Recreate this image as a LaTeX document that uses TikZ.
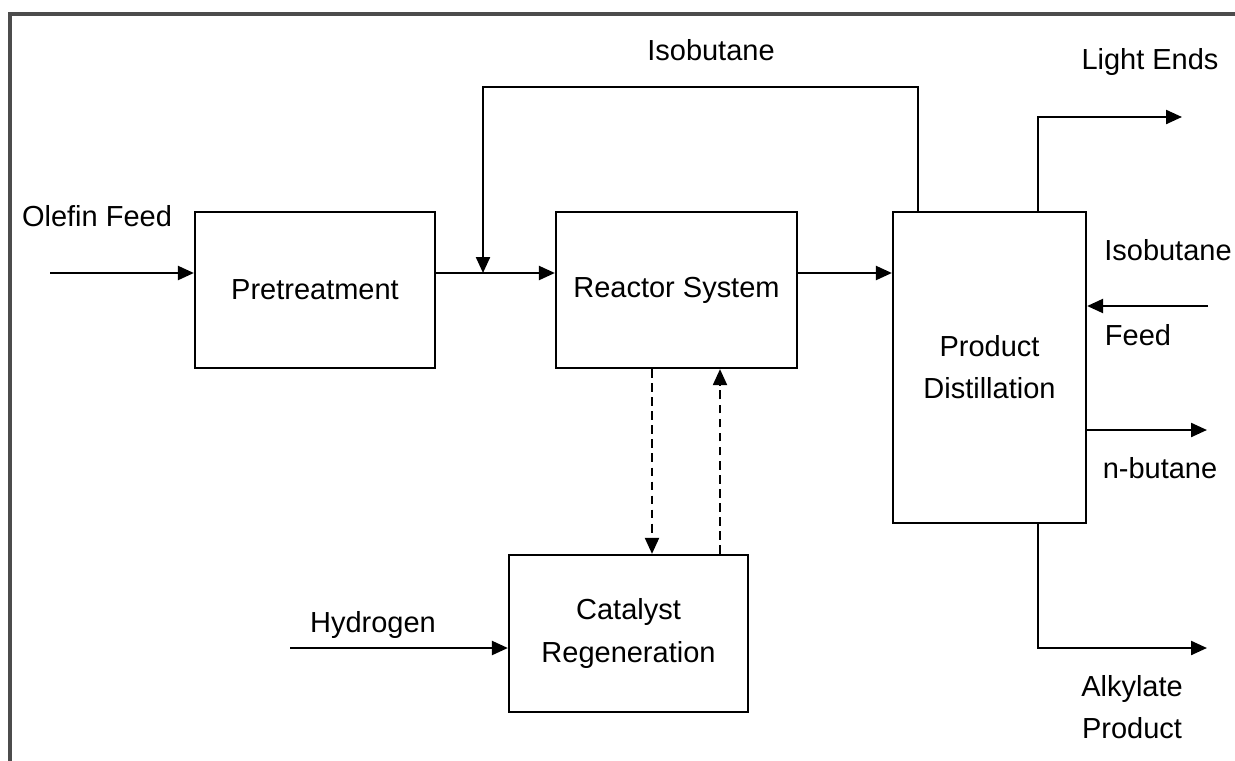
\documentclass[tikz,border=0pt]{standalone}
\usepackage{fontspec}
\setmainfont{Liberation Sans}
\usetikzlibrary{arrows.meta}
\tikzset{
	unit/.style={draw, line width=1.3pt, inner sep=0pt, align=center},
	flow/.style={line width=1.3pt, -{Triangle[length=3.2mm,width=2.8mm]}},
	loop/.style={line width=1.2pt, dashed, dash pattern=on 5pt off 3pt, -{Triangle[length=3.2mm,width=2.8mm]}},
	lbl/.style={inner sep=0pt, align=center}
}
\begin{document}
\begin{tikzpicture}[x=0.02cm, y=-0.02cm, font=\fontsize{16.5}{24}\selectfont]
	\useasboundingbox (0, 0) rectangle (1235, 761);
	\draw[line width=2pt, black!70] (10, 761) -- (10, 14) -- (1235, 14);

	% units
	\node[unit, minimum width=4.8cm, minimum height=3.12cm] (pre) at (315, 290) {Pretreatment};
	\node[unit, minimum width=4.82cm, minimum height=3.12cm] (reactor) at (676.5, 290) {Reactor System};
	\node[unit, minimum width=3.86cm, minimum height=6.22cm] (dist) at (989.5, 367.5) {Product\\Distillation};
	\node[unit, minimum width=4.78cm, minimum height=3.14cm] (regen) at (628.5, 633.5) {Catalyst\\Regeneration};

	% stream labels
	\node[lbl] (olefinlbl) at (97, 216) {Olefin Feed};
	\node[lbl] (recyclelbl) at (711, 50) {Isobutane};
	\node[lbl] (lightlbl) at (1150, 62) {Light Ends};
	\node[lbl] (isofeedlbl) at (1168, 250) {Isobutane};
	\node[lbl] (feedlbl) at (1138, 335) {Feed};
	\node[lbl] (butanelbl) at (1160, 468) {n-butane};
	\node[lbl] (hydrolbl) at (373, 625) {Hydrogen};
	\node[lbl] (alkylbl) at (1132, 707) {Alkylate\\Product};

	% free ends
	\coordinate (olefin) at (50, 273);
	\coordinate (recycle) at (483, 273);
	\coordinate (rectop) at (918, 87);
	\coordinate (light) at (1182, 117);
	\coordinate (isofeed) at (1208, 306);
	\coordinate (butane) at (1207, 430);
	\coordinate (alky) at (1207, 648);
	\coordinate (hydro) at (290, 648);

	% main line
	\draw[flow] (olefin) -- (olefin -| pre.west);
	\draw[flow] (pre.east |- olefin) -- (reactor.west |- olefin);
	\draw[flow] (reactor.east |- olefin) -- (dist.west |- olefin);
	\draw[flow] (rectop |- dist.north) -- (rectop) -- (rectop -| recycle) -- (recycle);

	% products
	\draw[flow] (dist.north -| 1038, 0) -- (1038, 0 |- light) -- (light);
	\draw[flow] (isofeed) -- (isofeed -| dist.east);
	\draw[flow] (dist.east |- butane) -- (butane);
	\draw[flow] (dist.south -| 1038, 0) -- (1038, 0 |- alky) -- (alky);

	% catalyst loop
	\draw[loop] (reactor.south -| 652, 0) -- (regen.north -| 652, 0);
	\draw[loop] (regen.north -| 720, 0) -- (reactor.south -| 720, 0);
	\draw[flow] (hydro) -- (hydro -| regen.west);
\end{tikzpicture}
\end{document}
